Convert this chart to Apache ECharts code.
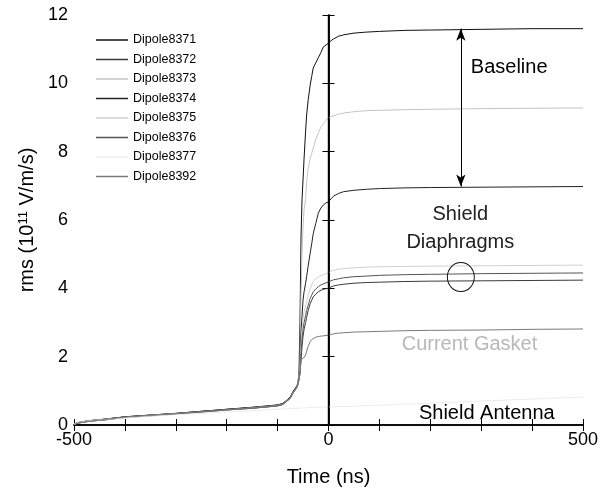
<!DOCTYPE html>
<html><head><meta charset="utf-8">
<script src="https://cdn.jsdelivr.net/npm/echarts@6/dist/echarts.min.js"></script>
<style>html,body{margin:0;padding:0;background:#fff}#c{width:604px;height:500px}</style>
</head><body><div id="c"></div>
<script>
// Time axis (ns) shared by all dipole traces
const times = [-500,-490,-470,-440,-400,-350,-300,-250,-200,-150,-120,-100,-90,-85,-80,-75,-70,-65,-62,-60,-58,-56,-54,-52,-50,-48,-45,-43,-40,-36,-33,-30,-25,-20,-15,-10,-5,0,5,10,20,30,50,75,100,150,200,300,400,500];

// rms values (10^11 V/m/s)
const d8371 = [0.02,0.08,0.13,0.17,0.24,0.29,0.34,0.40,0.46,0.52,0.56,0.59,0.63,0.69,0.75,0.82,0.97,1.08,1.15,1.25,1.50,3.0,5.5,6.6,7.2,7.8,8.6,9.07,9.5,9.95,10.2,10.45,10.6,10.75,10.9,11.07,11.12,11.18,11.25,11.3,11.38,11.42,11.47,11.5,11.52,11.55,11.56,11.58,11.6,11.6];
const d8372 = [0.02,0.06,0.11,0.15,0.22,0.27,0.32,0.38,0.44,0.49,0.53,0.56,0.60,0.66,0.72,0.78,0.93,1.03,1.10,1.18,1.32,1.5,1.9,2.3,2.6,2.8,3.0,3.15,3.35,3.55,3.65,3.75,3.83,3.9,3.94,3.97,3.99,4.0,4.04,4.07,4.1,4.12,4.15,4.17,4.18,4.2,4.21,4.22,4.23,4.24];
const d8373 = [0.02,0.07,0.12,0.16,0.23,0.28,0.33,0.39,0.45,0.50,0.54,0.57,0.61,0.67,0.73,0.80,0.95,1.05,1.12,1.22,1.45,2.0,3.8,5.0,5.8,6.3,6.6,7.1,7.5,7.8,7.95,8.1,8.35,8.55,8.72,8.82,8.92,8.98,9.02,9.05,9.1,9.13,9.17,9.2,9.21,9.23,9.24,9.26,9.27,9.28];
const d8374 = [0.03,0.08,0.12,0.17,0.24,0.29,0.34,0.40,0.46,0.51,0.55,0.58,0.62,0.68,0.74,0.81,0.96,1.06,1.13,1.22,1.40,2.0,2.7,3.2,3.66,3.9,4.15,4.34,4.65,5.03,5.3,5.6,5.9,6.2,6.35,6.44,6.5,6.53,6.62,6.7,6.78,6.83,6.87,6.9,6.92,6.94,6.95,6.96,6.97,6.98];
const d8375 = [0.02,0.07,0.12,0.16,0.22,0.28,0.33,0.38,0.44,0.50,0.54,0.57,0.61,0.67,0.73,0.79,0.94,1.04,1.11,1.20,1.38,1.8,2.4,2.8,3.1,3.3,3.5,3.62,3.8,3.98,4.1,4.2,4.28,4.33,4.37,4.4,4.43,4.46,4.5,4.53,4.56,4.58,4.6,4.62,4.63,4.64,4.65,4.66,4.67,4.68];
const d8376 = [0.01,0.06,0.11,0.15,0.22,0.27,0.32,0.38,0.44,0.49,0.53,0.56,0.60,0.66,0.72,0.79,0.94,1.04,1.11,1.19,1.35,1.6,2.1,2.5,2.8,3.0,3.2,3.35,3.5,3.7,3.8,3.9,3.98,4.05,4.1,4.13,4.16,4.19,4.22,4.25,4.28,4.31,4.34,4.36,4.38,4.4,4.41,4.43,4.44,4.45];
const d8377 = [0.02,0.08,0.12,0.16,0.21,0.26,0.30,0.34,0.38,0.42,0.44,0.46,0.47,0.47,0.48,0.48,0.48,0.49,0.49,0.49,0.49,0.49,0.50,0.50,0.50,0.50,0.50,0.50,0.51,0.51,0.51,0.51,0.51,0.52,0.52,0.52,0.52,0.53,0.53,0.53,0.54,0.54,0.55,0.57,0.58,0.61,0.64,0.70,0.76,0.82];
const d8392 = [0.02,0.07,0.11,0.16,0.23,0.28,0.33,0.39,0.45,0.50,0.54,0.57,0.61,0.67,0.73,0.79,0.94,1.04,1.11,1.19,1.34,1.5,1.92,1.93,1.95,2.0,2.05,2.1,2.3,2.44,2.5,2.54,2.57,2.59,2.6,2.61,2.62,2.63,2.65,2.67,2.69,2.7,2.72,2.73,2.74,2.76,2.77,2.78,2.8,2.81];

const seriesNames = ['Dipole8371','Dipole8372','Dipole8373','Dipole8374','Dipole8375','Dipole8376','Dipole8377','Dipole8392'];
const seriesValues = [d8371,d8372,d8373,d8374,d8375,d8376,d8377,d8392];
const seriesColors = ['#111111','#3a3a3a','#c4c4c4','#222222','#cfcfcf','#555555','#ececec','#7a7a7a'];

// Annotations [time, rms, text]
const baselineArrow = [[260, 11.6], [260, 6.98]];
const circleMark = [260, 4.33];
const annotations = [
  {pos: [355, 10.45], text: 'Baseline', color: '#000'},
  {pos: [259, 6.15], text: 'Shield', color: '#222'},
  {pos: [259, 5.33], text: 'Diaphragms', color: '#222'},
  {pos: [277, 2.37], text: 'Current Gasket', color: '#b8b8b8'},
  {pos: [311, 0.35], text: 'Shield Antenna', color: '#000'}
];

const FONT = 'Liberation Sans, Arial, sans-serif';
const chart = echarts.init(document.getElementById('c'), null, {renderer: 'canvas'});

const series = seriesNames.map((n, i) => ({
  name: n, type: 'line', showSymbol: false, symbol: 'none', silent: true,
  color: seriesColors[i],
  lineStyle: {color: seriesColors[i], width: 1},
  data: times.map((t, k) => [t, seriesValues[i][k]]),
  z: 3
}));

series[0].markLine = {
  silent: true, symbol: ['none','none'], label: {show: false},
  lineStyle: {color: '#000', width: 1.4, type: 'solid'},
  data: [{xAxis: 0}]
};
series.push({
  name: 'arrow', type: 'line', data: [], silent: true,
  markLine: {
    silent: true, symbol: ['arrow','arrow'], symbolSize: [7, 12], label: {show: false},
    lineStyle: {color: '#000', width: 1, type: 'solid'},
    data: [[{coord: baselineArrow[0]}, {coord: baselineArrow[1]}]]
  }
});
series.push({
  name: 'circle', type: 'scatter', silent: true, symbol: 'circle', symbolSize: [27, 29],
  itemStyle: {color: 'rgba(0,0,0,0)', borderColor: '#111', borderWidth: 1, opacity: 1},
  data: [circleMark], z: 5
});
series.push({
  name: 'labels', type: 'scatter', silent: true, symbolSize: 0,
  itemStyle: {opacity: 1},
  data: annotations.map(a => ({
    value: a.pos,
    label: {show: true, position: 'inside', formatter: a.text, color: a.color,
      fontSize: 20, fontFamily: FONT, opacity: 1, textBorderWidth: 0}
  })), z: 6
});

const axisLineStyle = {color: '#000', width: 1.5};
chart.setOption({
  animation: false,
  backgroundColor: '#fff',
  grid: {left: 74, right: 21, top: 15, bottom: 75, containLabel: false},
  legend: {
    data: seriesNames, orient: 'vertical', left: 91, top: 28,
    icon: 'rect', itemWidth: 32, itemHeight: 1.5, itemGap: 5.5,
    textStyle: {fontSize: 12.5, fontFamily: FONT, color: '#000', lineHeight: 14, padding: [0,0,0,0]},
    selectedMode: false
  },
  xAxis: [{
    type: 'value', min: -500, max: 500, interval: 100, position: 'bottom',
    name: 'Time (ns)', nameLocation: 'middle', nameGap: 42,
    nameTextStyle: {fontSize: 20, fontFamily: FONT, color: '#000'},
    axisLine: {lineStyle: axisLineStyle},
    axisTick: {inside: true, length: 6, lineStyle: {color: '#000', width: 1}},
    axisLabel: {fontSize: 18, fontFamily: FONT, color: '#000', margin: 6,
      formatter: v => (v === -500 || v === 0 || v === 500) ? String(v) : ''},
    splitLine: {show: false}
  }, {
    type: 'value', min: -500, max: 500, interval: 100, position: 'top',
    axisLine: {lineStyle: axisLineStyle},
    axisTick: {inside: true, length: 6, lineStyle: {color: '#000', width: 1}},
    axisLabel: {show: false}, splitLine: {show: false}
  }],
  yAxis: [{
    type: 'value', min: 0, max: 12, interval: 2, position: 'left',
    name: '{a|rms (10}{s|11}{a| V/m/s)}', nameLocation: 'middle', nameGap: 22, nameRotate: 90,
    nameTextStyle: {fontFamily: FONT, color: '#000',
      rich: {a: {fontSize: 20, fontFamily: FONT, color: '#000'},
             s: {fontSize: 13, fontFamily: FONT, color: '#000', verticalAlign: 'top', padding: [0,0,8,0]}}},
    axisLine: {lineStyle: axisLineStyle},
    axisTick: {inside: true, length: 6, lineStyle: {color: '#000', width: 1}},
    axisLabel: {fontSize: 18, fontFamily: FONT, color: '#000', margin: 6},
    splitLine: {show: false}
  }, {
    type: 'value', min: 0, max: 12, interval: 2, position: 'right',
    axisLine: {lineStyle: axisLineStyle},
    axisTick: {inside: true, length: 6, lineStyle: {color: '#000', width: 1}},
    axisLabel: {show: false}, splitLine: {show: false}
  }],
  series: series
});
</script></body></html>
